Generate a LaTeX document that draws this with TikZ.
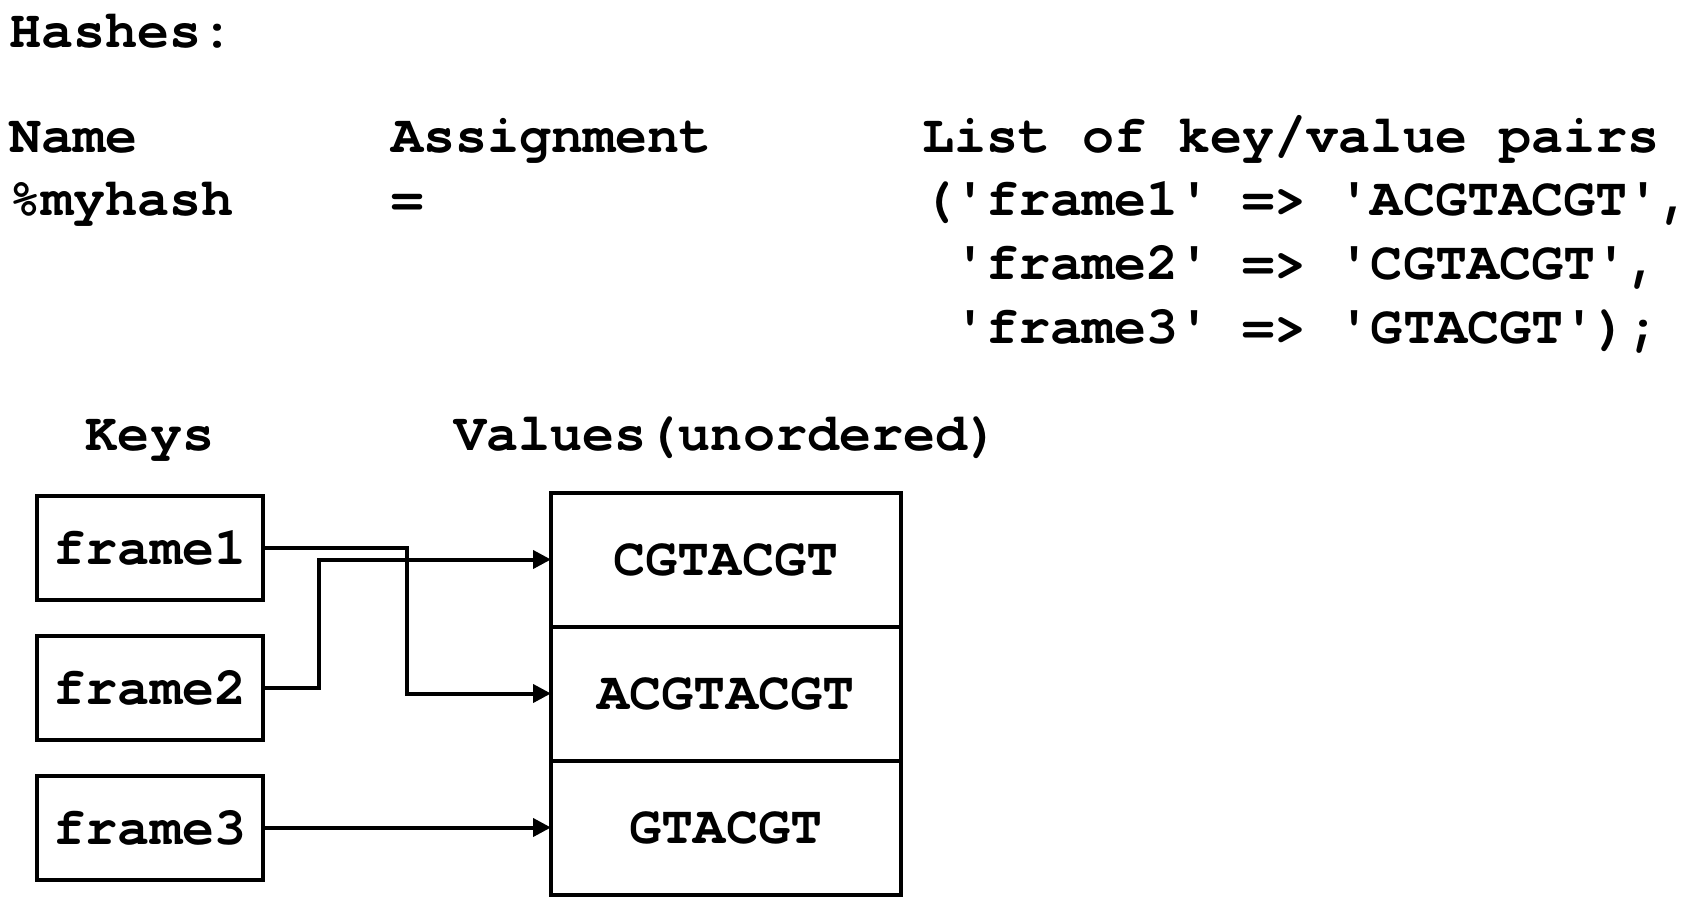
\documentclass[tikz,border=0pt]{standalone}
\usepackage{fontspec}
\setmonofont{TeX Gyre Cursor}
\usetikzlibrary{arrows.meta}

\begin{document}
\begin{tikzpicture}[x=0.5pt, y=-0.5pt, code/.style={font=\ttfamily\bfseries\fontsize{26.7pt}{30pt}\selectfont, inner sep=0pt, anchor=base west}, keybox/.style={rectangle, draw, line width=2pt, minimum width=113pt, minimum height=52pt, inner sep=0pt, outer sep=0pt, font=\ttfamily\bfseries\fontsize{26.7pt}{30pt}\selectfont}, valbox/.style={keybox, minimum width=175pt, minimum height=67pt}, arrow/.style={line width=2pt, -{Triangle[length=9pt, width=9pt]}}]
\useasboundingbox (0,0) rectangle (1694,900);
\node [code] (title) at (9,47) {Hashes:};
\node [code] (namehead) at (9,152) {Name};
\node [code] (assignhead) at (391,152) {Assignment};
\node [code] (listhead) at (922,152) {List of key/value pairs};
\node [code] (name) at (9,215) {\%myhash};
\node [code] (assign) at (391,215) {=};
\node [code] (pair1) at (922,215) {('frame1' => 'ACGTACGT',};
\node [code] (pair2) at (922,279) {\ 'frame2' => 'CGTACGT',};
\node [code] (pair3) at (922,343) {\ 'frame3' => 'GTACGT');};
\node [code, anchor=base] (keyshead) at (150,450) {Keys};
\node [code, anchor=base] (valueshead) at (727,450) {Values(unordered)};
\node [keybox] (key1) at (150,547.5) {frame1};
\node [keybox] (key2) at (150,687.5) {frame2};
\node [keybox] (key3) at (150,827.5) {frame3};
\node [valbox] (val1) at (726,559.5) {CGTACGT};
\node [valbox] (val2) at (726,693.5) {ACGTACGT};
\node [valbox] (val3) at (726,827.5) {GTACGT};
\coordinate (turn1) at (407,0);
\coordinate (turn2) at (319,0);
\draw [arrow] (key1.east) -- (key1.east -| turn1) |- (val2.west);
\draw [arrow] (key2.east) -- (key2.east -| turn2) |- (val1.west);
\draw [arrow] (key3.east) -- (val3.west);
\end{tikzpicture}
\end{document}
